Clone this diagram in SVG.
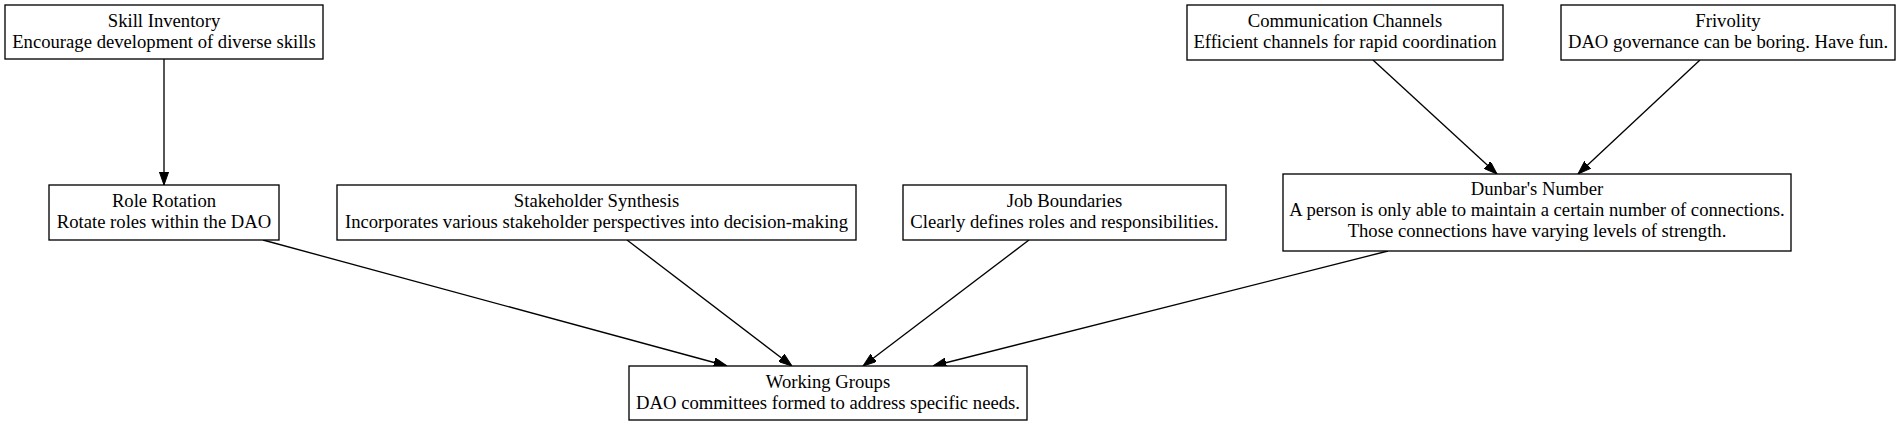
<svg xmlns="http://www.w3.org/2000/svg" width="1901" height="426" viewBox="0 0 1901 426">
<style>
.box{fill:#fff;stroke:#000;stroke-width:1.33}
.t{font-family:"Liberation Serif","Times New Roman",serif;font-size:18.67px;text-anchor:middle;fill:#000}
.e{fill:none;stroke:#000;stroke-width:1.33}
</style>
<defs>
<marker id="arr" markerUnits="userSpaceOnUse" viewBox="0 0 13.4 9.4" refX="13.3" refY="4.7" markerWidth="13.4" markerHeight="9.4" orient="auto">
<path d="M0,0 L13.3,4.7 L0,9.4 z" fill="#000" stroke="#000" stroke-width="1"/>
</marker>
</defs>
<rect width="1901" height="426" fill="#fff"/>
<g id="edges">
<line class="e" x1="164" y1="59" x2="164" y2="185" marker-end="url(#arr)"/>
<line class="e" x1="1373" y1="60" x2="1497" y2="174" marker-end="url(#arr)"/>
<line class="e" x1="1700" y1="60" x2="1578" y2="174" marker-end="url(#arr)"/>
<line class="e" x1="263" y1="240" x2="727" y2="366" marker-end="url(#arr)"/>
<line class="e" x1="627" y1="240" x2="792" y2="366" marker-end="url(#arr)"/>
<line class="e" x1="1029" y1="240" x2="863" y2="366" marker-end="url(#arr)"/>
<line class="e" x1="1388" y1="251" x2="933" y2="366" marker-end="url(#arr)"/>
</g>
<g id="skill_inventory">
<rect class="box" x="5" y="5" width="318" height="54"/>
<text class="t" x="164" y="27">Skill Inventory</text>
<text class="t" x="164" y="48">Encourage development of diverse skills</text>
</g>
<g id="communication_channels">
<rect class="box" x="1187" y="5" width="316" height="55"/>
<text class="t" x="1345" y="27">Communication Channels</text>
<text class="t" x="1345" y="48">Efficient channels for rapid coordination</text>
</g>
<g id="frivolity">
<rect class="box" x="1561" y="5" width="334" height="55"/>
<text class="t" x="1728" y="27">Frivolity</text>
<text class="t" x="1728" y="48">DAO governance can be boring. Have fun.</text>
</g>
<g id="role_rotation">
<rect class="box" x="49" y="185" width="230" height="55"/>
<text class="t" x="164" y="207">Role Rotation</text>
<text class="t" x="164" y="228">Rotate roles within the DAO</text>
</g>
<g id="stakeholder_synthesis">
<rect class="box" x="337" y="185" width="519" height="55"/>
<text class="t" x="596.5" y="207">Stakeholder Synthesis</text>
<text class="t" x="596.5" y="228">Incorporates various stakeholder perspectives into decision-making</text>
</g>
<g id="job_boundaries">
<rect class="box" x="903" y="185" width="323" height="55"/>
<text class="t" x="1064.5" y="207">Job Boundaries</text>
<text class="t" x="1064.5" y="228">Clearly defines roles and responsibilities.</text>
</g>
<g id="dunbars_number">
<rect class="box" x="1283" y="174" width="508" height="77"/>
<text class="t" x="1537" y="195">Dunbar's Number</text>
<text class="t" x="1537" y="216">A person is only able to maintain a certain number of connections.</text>
<text class="t" x="1537" y="237">Those connections have varying levels of strength.</text>
</g>
<g id="working_groups">
<rect class="box" x="629" y="366" width="398" height="54"/>
<text class="t" x="828" y="388">Working Groups</text>
<text class="t" x="828" y="409">DAO committees formed to address specific needs.</text>
</g>
</svg>
